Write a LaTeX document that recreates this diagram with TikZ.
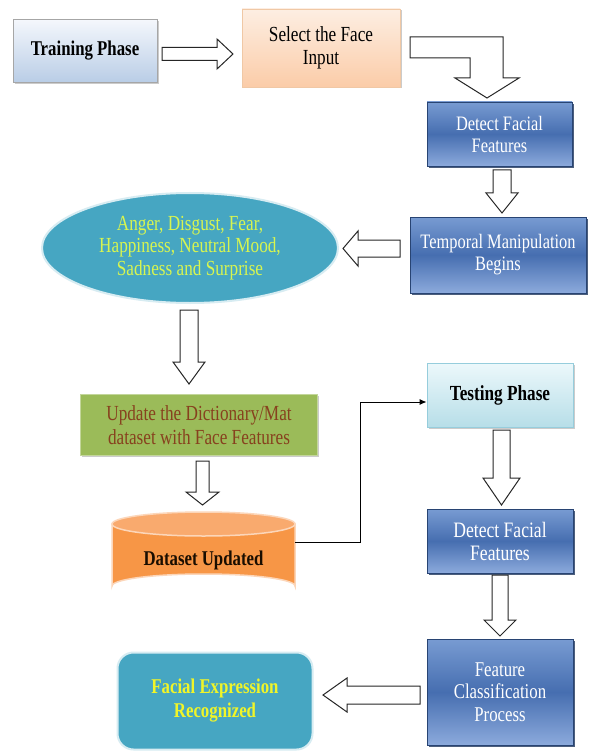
\documentclass[tikz,border=0pt]{standalone}
\usepackage{fontspec}
\setmainfont{Liberation Serif}[FakeStretch=0.8]
\usetikzlibrary{shapes.geometric,shadows,arrows.meta}
\definecolor{bluetop}{RGB}{120,155,210}
\definecolor{bluemid}{RGB}{70,110,176}
\definecolor{bluebot}{RGB}{140,170,220}
\definecolor{bluedark}{RGB}{40,68,115}
\definecolor{teal}{RGB}{70,166,194}
\definecolor{tealrim}{RGB}{215,236,242}
\definecolor{emotext}{RGB}{215,245,80}
\definecolor{fertext}{RGB}{240,245,40}
\definecolor{olive}{RGB}{155,187,89}
\definecolor{olivetext}{RGB}{135,65,30}
\definecolor{orng}{RGB}{247,150,70}
\definecolor{orngtop}{RGB}{249,170,110}
\definecolor{orngrim}{RGB}{252,214,185}
\definecolor{peachtop}{RGB}{253,238,226}
\definecolor{peachbot}{RGB}{251,204,168}
\definecolor{peachrim}{RGB}{240,200,165}
\definecolor{trtop}{RGB}{244,247,252}
\definecolor{trbot}{RGB}{185,205,230}
\definecolor{tstop}{RGB}{236,248,251}
\definecolor{tsbot}{RGB}{183,222,232}
\definecolor{tsrim}{RGB}{150,205,220}
\begin{document}
\begin{tikzpicture}[x=1pt,y=-1pt,
  txt/.style={align=center, inner sep=2pt, font=\fontsize{21}{23}\selectfont},
  softshadow/.style={drop shadow={shadow xshift=1.5pt, shadow yshift=-1.5pt, fill=black!40, opacity=0.5}},
  bluebox/.style={txt, rectangle, draw=bluedark, line width=0.9pt, top color=bluetop, bottom color=bluebot, middle color=bluemid, text=white,
    drop shadow={shadow xshift=2pt, shadow yshift=-2pt, fill=bluedark!80!black, opacity=0.8}},
  barrow/.style={draw=black!85, fill=white, line width=1pt, line join=miter}
]
\useasboundingbox (0,0) rectangle (588,751);
\fill[white] (0,0) rectangle (588,751);

% nodes
\node[txt, rectangle, draw=black!35, line width=0.8pt, top color=trtop, bottom color=trbot, softshadow,
  minimum width=144pt, minimum height=63pt, font=\fontsize{21}{23}\selectfont] (train) at (85,51) {\textbf{Training Phase}};
\node[txt, rectangle, draw=peachrim, line width=0.8pt, top color=peachtop, bottom color=peachbot, softshadow,
  minimum width=158pt, minimum height=78pt, font=\fontsize{21.5}{23}\selectfont] (select) at (321,48) {Select the Face\\Input};
\node[bluebox, minimum width=145pt, minimum height=64pt, font=\fontsize{20.5}{22}\selectfont] (det1) at (499.5,134) {Detect Facial\\Features};
\node[bluebox, minimum width=176pt, minimum height=76pt, font=\fontsize{20.5}{22}\selectfont] (temp) at (498,255) {Temporal Manipulation\\Begins};
\node[txt, ellipse, draw=tealrim, line width=2pt, fill=teal, text=emotext, inner sep=0pt,
  minimum width=296pt, minimum height=110pt, font=\fontsize{21.5}{22.5}\selectfont] (emo) at (190,248)
  {Anger, Disgust, Fear,\\Happiness, Neutral Mood,\\Sadness and Surprise};
\node[txt, rectangle, draw=olive!60!white, line width=1.2pt, fill=olive, text=olivetext, softshadow,
  minimum width=237pt, minimum height=61pt, font=\fontsize{21.5}{24}\selectfont] (upd) at (199,425)
  {Update the Dictionary/Mat\\dataset with Face Features};

% cylinder
\fill[orng, draw=orngrim, line width=1.5pt] (112,524) -- (112,586) arc[start angle=180, end angle=360, x radius=91.5, y radius=12] -- (295,524) -- cycle;
\fill[orngtop, draw=orngrim, line width=1.5pt] (203.5,524) ellipse[x radius=91.5, y radius=12];
\node[txt, font=\fontsize{21}{23}\selectfont\bfseries, text=black!90!orange] (cyl) at (203.5,560) {Dataset Updated};
\coordinate (cylr) at (295,542);

\node[txt, rectangle, draw=tsrim, line width=0.8pt, top color=tstop, bottom color=tsbot, softshadow,
  minimum width=146pt, minimum height=64pt, font=\fontsize{21.5}{23}\selectfont\bfseries] (test) at (500,395) {Testing Phase};
\node[bluebox, minimum width=146pt, minimum height=64pt, font=\fontsize{22}{23}\selectfont] (det2) at (500,541) {Detect Facial\\Features};
\node[bluebox, minimum width=146pt, minimum height=106pt, font=\fontsize{21}{22.5}\selectfont] (feat) at (500,692) {Feature\\Classification\\Process};
\node[txt, rectangle, rounded corners=16pt, draw=tealrim, line width=2pt, fill=teal, text=fertext,
  minimum width=195pt, minimum height=97pt, font=\fontsize{21}{24}\selectfont\bfseries] (fer) at (215,701) {Facial Expression\\Recognized};

% connector
\draw[line width=1pt, -{Latex[length=7pt,width=6pt]}] (cylr) -- (360,542) |- ([yshift=-7pt]test.west);

% block arrows
\draw[barrow] (162,47.5) -- (217,47.5) -- (217,39) -- (233,54) -- (217,69) -- (217,60.5) -- (162,60.5) -- cycle;
\draw[barrow] (410,37) -- (503,37) -- (503,78) -- (519,78) -- (487,98) -- (455,78) -- (470,78) -- (470,58) -- (410,58) -- cycle;
\draw[barrow] (493,170) -- (511,170) -- (511,193) -- (518,193) -- (502,213) -- (486,193) -- (493,193) -- cycle;
\draw[barrow] (400,240) -- (358,240) -- (358,231) -- (343,248.5) -- (358,266) -- (358,257) -- (400,257) -- cycle;
\draw[barrow] (180,310) -- (198,310) -- (198,362) -- (205,362) -- (189,384) -- (173,362) -- (180,362) -- cycle;
\draw[barrow] (196,461) -- (209,461) -- (209,492) -- (219,492) -- (202.5,505) -- (186,492) -- (196,492) -- cycle;
\draw[barrow] (493,430) -- (510,430) -- (510,478) -- (520,478) -- (501.5,505) -- (483,478) -- (493,478) -- cycle;
\draw[barrow] (492,575) -- (508,575) -- (508,620) -- (516,620) -- (500,636) -- (484,620) -- (492,620) -- cycle;
\draw[barrow] (420,686) -- (347,686) -- (347,678) -- (323,695) -- (347,712) -- (347,704) -- (420,704) -- cycle;
\end{tikzpicture}
\end{document}
